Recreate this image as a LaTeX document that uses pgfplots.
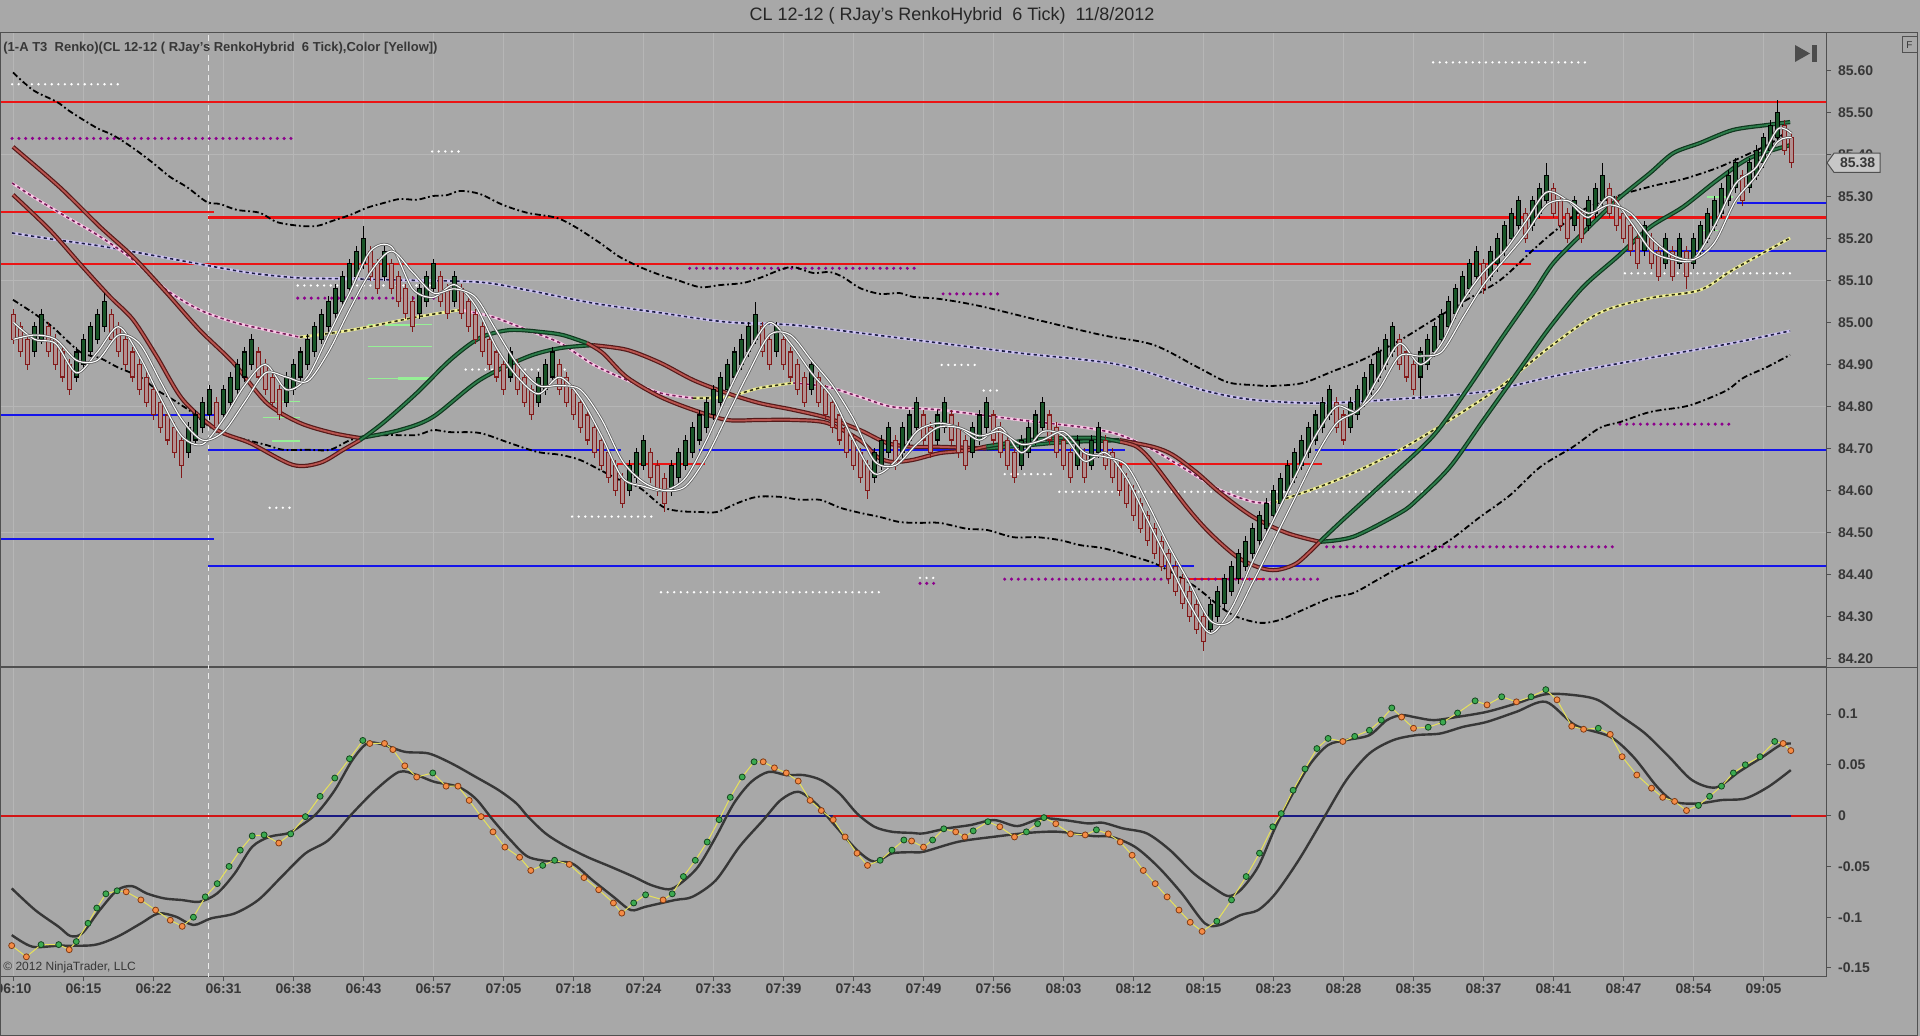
\documentclass[border=0pt]{standalone}
\usepackage{pgfplots}
\pgfplotsset{compat=1.18}
\usepackage{pgfplotstable}
\usepackage{fontspec}
\setmainfont{Liberation Sans}
\definecolor{bg}{RGB}{168,168,168}
\definecolor{gridc}{RGB}{182,182,182}
\definecolor{framec}{RGB}{80,80,80}
\definecolor{labelc}{RGB}{55,55,55}
\definecolor{lvlred}{RGB}{235,20,20}
\definecolor{lvlblue}{RGB}{20,20,235}
\definecolor{dotpurple}{RGB}{140,0,140}
\definecolor{lavL}{RGB}{205,195,240}
\definecolor{lavD}{RGB}{30,30,70}
\definecolor{pinkD}{RGB}{120,30,90}
\definecolor{pinkL}{RGB}{250,200,230}
\definecolor{yelD}{RGB}{50,50,20}
\definecolor{yelL}{RGB}{240,240,150}
\definecolor{maredD}{RGB}{85,25,25}
\definecolor{maredL}{RGB}{185,85,80}
\definecolor{magrnD}{RGB}{15,55,30}
\definecolor{magrnL}{RGB}{45,125,75}
\definecolor{upG}{RGB}{25,85,40}
\definecolor{dnD}{RGB}{130,25,25}
\definecolor{dnF}{RGB}{178,145,145}
\definecolor{wlD}{RGB}{95,95,95}
\definecolor{ltgreen}{RGB}{150,240,150}
\definecolor{oscD}{RGB}{55,55,55}
\definecolor{dotG}{RGB}{60,170,80}
\definecolor{dotGD}{RGB}{20,70,30}
\definecolor{dotO}{RGB}{245,140,70}
\definecolor{dotOD}{RGB}{130,60,20}
\definecolor{dotline}{RGB}{230,225,90}
\definecolor{zred}{RGB}{210,20,20}
\definecolor{znavy}{RGB}{25,25,130}
\tikzset{
  redl/.style={draw=lvlred, line width=1.1pt},
  bluel/.style={draw=lvlblue, line width=1.1pt},
  wdots/.style={draw=white, line width=1.3pt, line cap=round, dash pattern=on 0pt off 3.3pt},
  pdots/.style={draw=dotpurple, line width=1.7pt, line cap=round, dash pattern=on 0pt off 3.4pt},
  band/.style={draw=black, line width=0.9pt, dash pattern=on 3pt off 1.4pt on 0.9pt off 1.4pt},
  lavma/.style={draw=lavL, line width=1.4pt, postaction={draw=lavD, line width=0.8pt, dash pattern=on 1.6pt off 1.6pt}},
  pinkma/.style={draw=pinkL, line width=1.4pt, postaction={draw=pinkD, line width=0.8pt, dash pattern=on 1.6pt off 1.6pt}},
  yelma/.style={draw=yelL, line width=1.4pt, postaction={draw=yelD, line width=0.8pt, dash pattern=on 1.6pt off 1.6pt}},
  redma/.style={draw=maredD, line width=2.1pt, postaction={draw=maredL, line width=0.9pt}},
  grnma/.style={draw=magrnD, line width=2.1pt, postaction={draw=magrnL, line width=0.9pt}},
  wline/.style={draw=wlD, line width=1.3pt, postaction={draw=white, line width=0.55pt}},
  ltg/.style={draw=ltgreen, line width=0.5pt},
  ltgb/.style={draw=ltgreen, line width=1.3pt},
  sess/.style={draw=white!85!gray, line width=0.6pt, dash pattern=on 3pt off 2pt},
  osc/.style={draw=oscD, line width=1.2pt},
}
\pgfplotsset{
  ebar/.style={draw=none, mark=none, error bars/y dir=both, error bars/error mark=none},
}
\pgfplotstableread{
i c
3 84.96
4 84.99
9 84.90
10 84.93
11 84.96
12 84.99
13 85.02
25 84.72
26 84.75
27 84.78
28 84.81
30 84.81
31 84.84
32 84.87
33 84.90
34 84.93
39 84.84
40 84.87
41 84.90
42 84.93
43 84.96
44 84.99
45 85.02
46 85.05
47 85.08
48 85.11
49 85.14
50 85.17
53 85.14
58 85.05
59 85.08
60 85.11
63 85.08
71 84.90
75 84.84
76 84.87
77 84.90
88 84.63
89 84.66
90 84.69
94 84.63
95 84.66
96 84.69
97 84.72
98 84.75
99 84.78
100 84.81
101 84.84
102 84.87
103 84.90
104 84.93
105 84.96
106 84.99
109 84.96
114 84.87
123 84.66
124 84.69
125 84.72
127 84.72
128 84.75
129 84.78
132 84.75
133 84.78
137 84.72
138 84.75
139 84.78
144 84.69
145 84.72
146 84.75
147 84.78
152 84.69
154 84.69
155 84.72
171 84.30
172 84.33
173 84.36
174 84.39
175 84.42
176 84.45
177 84.48
178 84.51
179 84.54
180 84.57
181 84.60
182 84.63
183 84.66
184 84.69
185 84.72
186 84.75
187 84.78
188 84.81
191 84.78
192 84.81
193 84.84
194 84.87
195 84.90
196 84.93
197 84.96
201 84.90
202 84.93
203 84.96
204 84.99
205 85.02
206 85.05
207 85.08
208 85.11
209 85.14
211 85.14
212 85.17
213 85.20
214 85.23
215 85.26
217 85.26
218 85.29
219 85.32
223 85.26
225 85.26
226 85.29
227 85.32
233 85.20
236 85.17
238 85.17
240 85.17
241 85.20
242 85.23
243 85.26
244 85.29
245 85.32
246 85.35
248 85.35
249 85.38
250 85.41
251 85.44
252 85.47
}\upbars
\pgfplotstableread{
i c
0 84.99
1 84.96
2 84.93
5 84.96
6 84.93
7 84.90
8 84.87
14 84.99
15 84.96
16 84.93
17 84.90
18 84.87
19 84.84
20 84.81
21 84.78
22 84.75
23 84.72
24 84.69
29 84.78
35 84.90
36 84.87
37 84.84
38 84.81
51 85.14
52 85.11
54 85.11
55 85.08
56 85.05
57 85.02
61 85.08
62 85.05
64 85.05
65 85.02
66 84.99
67 84.96
68 84.93
69 84.90
70 84.87
72 84.87
73 84.84
74 84.81
78 84.87
79 84.84
80 84.81
81 84.78
82 84.75
83 84.72
84 84.69
85 84.66
86 84.63
87 84.60
91 84.66
92 84.63
93 84.60
107 84.96
108 84.93
110 84.93
111 84.90
112 84.87
113 84.84
115 84.84
116 84.81
117 84.78
118 84.75
119 84.72
120 84.69
121 84.66
122 84.63
126 84.69
130 84.75
131 84.72
134 84.75
135 84.72
136 84.69
140 84.75
141 84.72
142 84.69
143 84.66
148 84.75
149 84.72
150 84.69
151 84.66
153 84.66
156 84.69
157 84.66
158 84.63
159 84.60
160 84.57
161 84.54
162 84.51
163 84.48
164 84.45
165 84.42
166 84.39
167 84.36
168 84.33
169 84.30
170 84.27
189 84.78
190 84.75
198 84.93
199 84.90
200 84.87
210 85.11
216 85.23
220 85.29
221 85.26
222 85.23
224 85.23
228 85.29
229 85.26
230 85.23
231 85.20
232 85.17
234 85.17
235 85.14
237 85.14
239 85.14
247 85.32
253 85.44
254 85.41
}\dnbars
\pgfplotstableread{
i h l
13 85.07 84.98
50 85.23 85.13
106 85.05 84.95
201 84.94 84.82
212 85.21 85.12
219 85.38 85.28
227 85.38 85.28
252 85.53 85.43
}\upwicks
\pgfplotstableread{
i h l
24 84.73 84.63
87 84.64 84.56
93 84.64 84.55
122 84.67 84.58
170 84.31 84.22
239 85.18 85.08
254 85.45 85.37
}\dnwicks
\pgfplotstableread{
i v c
-0.26 -0.128 o
1.84 -0.139 o
3.94 -0.127 g
6.46 -0.127 g
7.96 -0.132 o
8.97 -0.124 g
10.65 -0.106 g
11.9 -0.091 g
13.2 -0.077 g
14.8 -0.074 g
16.1 -0.075 o
18.2 -0.083 o
20.3 -0.093 o
22.4 -0.103 o
24.1 -0.109 o
25.7 -0.100 g
27.4 -0.080 g
29.1 -0.067 g
30.8 -0.050 g
32.4 -0.034 g
34.1 -0.020 g
35.8 -0.019 g
37.9 -0.027 o
39.6 -0.018 g
41.7 -0.001 g
43.8 0.019 g
45.9 0.037 g
48.0 0.056 g
49.9 0.074 g
50.9 0.071 o
53.0 0.071 o
54.2 0.065 o
55.9 0.049 o
57.6 0.038 o
59.9 0.042 g
61.8 0.029 o
63.5 0.029 o
65.1 0.015 o
66.8 -0.001 o
68.5 -0.016 o
70.2 -0.031 o
72.3 -0.041 o
73.9 -0.054 o
75.6 -0.049 g
77.3 -0.044 g
79.4 -0.048 o
81.5 -0.061 o
83.6 -0.073 o
85.7 -0.086 o
86.9 -0.096 o
88.6 -0.086 g
90.3 -0.078 g
92.8 -0.083 o
94.1 -0.077 g
95.7 -0.060 g
97.4 -0.044 g
99.1 -0.026 g
100.8 -0.004 g
102.4 0.018 g
104.1 0.038 g
105.8 0.053 g
107.1 0.053 o
108.7 0.047 o
110.4 0.042 o
112.1 0.034 o
113.8 0.015 o
115.4 0.005 o
117.1 -0.004 o
118.8 -0.021 o
120.5 -0.037 o
122.0 -0.049 o
123.8 -0.044 g
125.5 -0.034 g
127.2 -0.024 g
128.3 -0.025 o
130.0 -0.031 o
131.3 -0.024 g
132.9 -0.013 g
134.6 -0.016 o
135.9 -0.021 o
137.1 -0.015 g
139.2 -0.006 g
140.9 -0.011 o
143.0 -0.021 o
144.7 -0.016 g
146.3 -0.008 g
147.2 -0.002 g
148.9 -0.008 o
151.0 -0.018 o
153.1 -0.019 o
154.7 -0.014 g
156.4 -0.018 o
158.1 -0.026 o
159.8 -0.039 o
161.4 -0.054 o
163.1 -0.067 o
164.8 -0.080 o
166.5 -0.093 o
168.1 -0.105 o
169.8 -0.114 o
171.9 -0.104 g
174.0 -0.083 g
176.1 -0.060 g
178.0 -0.037 g
179.9 -0.011 g
181.1 0.002 g
182.8 0.025 g
184.5 0.046 g
186.2 0.066 g
187.8 0.076 g
189.9 0.073 o
191.6 0.078 g
193.7 0.084 g
195.4 0.094 g
196.9 0.106 g
198.3 0.097 o
200.0 0.086 o
202.1 0.087 g
204.2 0.092 g
206.3 0.101 g
208.8 0.113 g
210.5 0.109 o
212.6 0.117 g
214.7 0.112 o
216.8 0.117 g
218.9 0.124 g
220.5 0.114 o
222.6 0.088 o
224.3 0.085 o
226.4 0.086 g
228.1 0.080 o
229.8 0.058 o
231.9 0.040 o
234.0 0.027 o
235.6 0.018 o
237.3 0.014 o
239.0 0.005 o
240.7 0.010 g
242.3 0.019 g
244.0 0.029 g
245.7 0.042 g
247.4 0.050 g
249.5 0.058 g
251.6 0.073 g
252.8 0.071 o
253.9 0.064 o
}\osctab
\begin{document}
\begin{tikzpicture}
\path[use as bounding box] (0,0) rectangle (960pt,-518pt);
\fill[bg] (0,0) rectangle (960pt,-518pt);
\node[font=\fontsize{9}{10}\selectfont, text=black!85] at (476pt,-8pt) {CL 12-12 ( RJay's RenkoHybrid\ \ 6 Tick)\ \ 11/8/2012};

% ================= UPPER PANEL =================
\begin{axis}[
  at={(0pt,-16.5pt)}, anchor=north west,
  width=913pt, height=317pt, scale only axis,
  xmin=-1.9286, xmax=258.93, ymin=84.180, ymax=85.689,
  axis background/.style={fill=bg},
  axis line style={draw=framec, line width=0.5pt},
  xtick={0,10,...,250}, xticklabels={},
  xmajorgrids=true,
  grid style={draw=gridc, line width=0.45pt},
  major x tick style={draw=none},
  ytick={84.2,84.3,84.4,84.5,84.6,84.7,84.8,84.9,85.0,85.1,85.2,85.3,85.4,85.5,85.6},
  yticklabels={84.20,84.30,84.40,84.50,84.60,84.70,84.80,84.90,85.00,85.10,85.20,85.30,85.40,85.50,85.60},
  ytick pos=right, yticklabel pos=right,
  tick align=outside, major tick length=2.5pt,
  major y tick style={draw=framec, line width=0.5pt},
  yticklabel style={font=\fontsize{7}{8}\selectfont\bfseries, text=labelc},
  extra y ticks={84.5,84.8,85.1,85.4},
  extra y tick labels={},
  extra y tick style={grid=major, major tick length=0pt},
]
% session break
\addplot[sess] coordinates {(27.8,84.1) (27.8,85.8)};
% level lines
\addplot[redl] coordinates {(-2,85.524) (260,85.524)};
\addplot[redl] coordinates {(-2,85.262) (28.6,85.262)};
\addplot[redl] coordinates {(27.8,85.250) (260,85.250)};
\addplot[redl] coordinates {(-2,85.139) (216.8,85.139)};
\addplot[redl] coordinates {(86.2,84.663) (98.8,84.663)};
\addplot[redl] coordinates {(158.1,84.663) (186.9,84.663)};
\addplot[redl] coordinates {(167.6,84.389) (178.8,84.389)};
\addplot[bluel] coordinates {(-2,84.780) (28.6,84.780)};
\addplot[bluel] coordinates {(27.8,84.697) (86.8,84.697)};
\addplot[bluel] coordinates {(97.9,84.697) (158.8,84.697)};
\addplot[bluel] coordinates {(185.9,84.697) (260,84.697)};
\addplot[bluel] coordinates {(-2,84.485) (28.6,84.485)};
\addplot[bluel] coordinates {(27.8,84.420) (168.6,84.420)};
\addplot[bluel] coordinates {(177.8,84.420) (260,84.420)};
\addplot[bluel] coordinates {(246.2,85.285) (260,85.285)};
\addplot[bluel] coordinates {(215.9,85.171) (260,85.171)};
% dotted levels
\addplot[wdots] coordinates {(-0.2,85.567) (14.9,85.567)};
\addplot[wdots] coordinates {(59.8,85.407) (64.1,85.407)};
\addplot[wdots] coordinates {(40.6,85.088) (59.5,85.088)};
\addplot[wdots] coordinates {(64.6,84.888) (78.9,84.888)};
\addplot[wdots] coordinates {(36.6,84.559) (39.9,84.559)};
\addplot[wdots] coordinates {(79.8,84.538) (91.9,84.538)};
\addplot[wdots] coordinates {(92.5,84.358) (124.1,84.358)};
\addplot[wdots] coordinates {(132.6,84.899) (138.1,84.899)};
\addplot[wdots] coordinates {(138.6,84.838) (140.9,84.838)};
\addplot[wdots] coordinates {(141.6,84.639) (149.1,84.639)};
\addplot[wdots] coordinates {(149.4,84.597) (201.9,84.597)};
\addplot[wdots] coordinates {(129.5,84.392) (132.1,84.392)};
\addplot[wdots] coordinates {(230.2,85.117) (254.1,85.117)};
\addplot[wdots] coordinates {(202.8,85.619) (225.1,85.619)};
\addplot[pdots] coordinates {(-0.2,85.438) (39.9,85.438)};
\addplot[pdots] coordinates {(40.6,85.058) (63.4,85.058)};
\addplot[pdots] coordinates {(96.6,85.129) (129.1,85.129)};
\addplot[pdots] coordinates {(132.8,85.068) (141.2,85.068)};
\addplot[pdots] coordinates {(141.6,84.389) (187.1,84.389)};
\addplot[pdots] coordinates {(187.6,84.466) (229.1,84.466)};
\addplot[pdots] coordinates {(129.5,84.379) (132.1,84.379)};
\addplot[pdots] coordinates {(229.5,84.758) (245.2,84.758)};
% light green short marks
\addplot[ltg] coordinates {(50.6,84.994) (59.8,84.994)};
\addplot[ltgb] coordinates {(53.0,84.994) (57.5,84.994)};
\addplot[ltg] coordinates {(50.6,84.943) (59.8,84.943)};
\addplot[ltg] coordinates {(50.6,84.866) (59.8,84.866)};
\addplot[ltgb] coordinates {(54.9,84.866) (59.8,84.866)};
\addplot[ltg] coordinates {(35.6,84.811) (40.9,84.811)};
\addplot[ltg] coordinates {(35.6,84.773) (40.9,84.773)};
\addplot[ltgb] coordinates {(36.9,84.718) (40.9,84.718)};
\addplot[ltgb] coordinates {(241.9,85.299) (245.6,85.299)};
\addplot[ltg] coordinates {(240.6,85.220) (243.5,85.220)};
% bands
\addplot[band, smooth] coordinates {(-0.07,85.595) (2.8,85.553) (6.2,85.525) (8.1,85.502) (11.9,85.463) (14.2,85.446) (17.1,85.415) (19.9,85.380) (22.4,85.346) (24.8,85.322) (27.6,85.287) (29.5,85.282) (31.9,85.268) (35.2,85.261) (37.6,85.239) (40.9,85.230) (43.4,85.230) (45.6,85.242) (48.1,85.256) (50.5,85.273) (52.8,85.284) (55.2,85.294) (57.6,85.292) (59.9,85.301) (61.9,85.303) (63.8,85.313) (66.6,85.306) (69.9,85.280) (73.4,85.261) (77.6,85.249) (80.5,85.225) (83.8,85.189) (86.6,85.156) (89.5,85.132) (92.4,85.113) (94.8,85.101) (98.1,85.084) (100.9,85.089) (104.2,85.094) (106.6,85.106) (109.5,85.125) (111.4,85.132) (114.2,85.118) (116.6,85.120) (118.5,85.108) (120.9,85.082) (123.8,85.068) (126.6,85.070) (128.5,85.061) (132.3,85.056) (138.1,85.039) (146.8,85.004) (155.5,84.970) (162.8,84.947) (169.1,84.894) (173.4,84.858) (177.1,84.851) (179.9,84.849) (184.2,84.856) (188.5,84.884) (192.8,84.912) (198.1,84.958) (202.8,85.006) (207.6,85.054) (212.4,85.101) (217.1,85.173) (220.0,85.215) (224.2,85.268) (229.5,85.303) (234.2,85.325) (238.5,85.341) (243.4,85.368) (248.1,85.403) (251.4,85.430) (253.8,85.463)};
\addplot[band, smooth] coordinates {(-0.07,85.054) (2.8,85.023) (5.6,84.989) (9.5,84.930) (12.4,84.915) (14.8,84.894) (18.1,84.870) (20.5,84.839) (22.8,84.816) (25.6,84.785) (28.1,84.751) (30.5,84.732) (33.4,84.720) (36.2,84.708) (38.5,84.697) (41.9,84.697) (45.2,84.697) (48.1,84.720) (50.5,84.728) (53.4,84.732) (57.6,84.732) (59.9,84.744) (62.4,84.739) (66.6,84.737) (70.9,84.713) (74.8,84.692) (78.1,84.685) (80.9,84.673) (83.8,84.649) (86.6,84.625) (89.5,84.606) (92.8,84.561) (95.2,84.551) (98.1,84.549) (100.5,84.549) (103.4,84.570) (106.2,84.585) (109.5,84.585) (112.4,84.578) (115.2,84.578) (118.1,84.559) (120.9,84.547) (123.8,84.537) (126.6,84.525) (129.5,84.523) (132.3,84.523) (136.2,84.509) (139.1,84.506) (142.8,84.489) (146.2,84.489) (149.5,84.482) (152.4,84.470) (155.6,84.463) (159.1,84.447) (162.8,84.428) (165.6,84.404) (169.1,84.368) (172.4,84.323) (174.8,84.299) (178.1,84.285) (180.9,84.292) (184.2,84.316) (188.1,84.344) (191.4,84.356) (194.8,84.387) (198.1,84.418) (200.5,84.435) (205.2,84.482) (209.5,84.537) (213.8,84.589) (218.1,84.656) (222.8,84.704) (226.6,84.749) (229.5,84.763) (233.8,84.787) (238.5,84.799) (240.9,84.811) (244.8,84.839) (247.1,84.868) (250.5,84.894) (253.8,84.923)};
% lavender MA
\addplot[lavma, smooth] coordinates {(-0.2,85.213) (5.2,85.199) (12.4,85.182) (19.5,85.161) (26.6,85.139) (33.8,85.118) (40.9,85.106) (48.1,85.104) (55.2,85.101) (66.6,85.096) (73.4,85.077) (82.8,85.046) (92.4,85.023) (101.9,85.001) (111.4,84.994) (120.9,84.975) (132.3,84.951) (143.8,84.927) (158.1,84.899) (169.9,84.839) (177.1,84.816) (186.6,84.808) (198.1,84.818) (209.9,84.835) (219.5,84.870) (226.6,84.894) (236.2,84.923) (245.6,84.951) (253.8,84.980)};
% pink / yellow MA
\addplot[pinkma, smooth] coordinates {(-0.2,85.332) (2.8,85.299) (7.6,85.251) (12.4,85.204) (17.1,85.149) (21.9,85.077) (26.6,85.030) (31.4,85.001) (36.2,84.982) (40.9,84.965)};
\addplot[yelma, smooth] coordinates {(40.9,84.965) (45.6,84.975) (50.5,84.989) (57.6,85.013) (63.8,85.030)};
\addplot[pinkma, smooth] coordinates {(63.8,85.030) (68.5,85.013) (73.4,84.982) (78.1,84.951) (82.8,84.900) (87.6,84.863) (92.4,84.832) (97.1,84.820)};
\addplot[yelma, smooth] coordinates {(97.1,84.820) (101.9,84.823) (106.6,84.844) (111.4,84.856)};
\addplot[pinkma, smooth] coordinates {(111.4,84.856) (116.2,84.847) (120.9,84.823) (125.6,84.799) (132.3,84.792) (143.8,84.768) (153.4,84.749) (158.1,84.732) (162.8,84.697) (167.6,84.649) (172.4,84.601) (177.1,84.573) (180,84.571)};
\addplot[yelma, smooth] coordinates {(180,84.571) (186.6,84.609) (191.4,84.642) (198.1,84.697) (205.2,84.768) (212.4,84.847) (219.5,84.942) (226.6,85.023) (233.8,85.058) (240.9,85.077) (245.6,85.125) (253.8,85.201)};
% slow MA
\addplot[redma, smooth] coordinates {(-0.07,85.418) (6.6,85.322) (12.4,85.227) (17.1,85.156) (21.9,85.070) (26.6,84.982) (31.4,84.904) (36.2,84.808) (40.9,84.761) (45.6,84.737) (49.5,84.725)};
\addplot[grnma, smooth] coordinates {(49.5,84.725) (55.2,84.744) (59.9,84.775) (66.6,84.863) (73.4,84.918) (78.1,84.939) (82.8,84.946)};
\addplot[redma, smooth] coordinates {(82.8,84.946) (87.6,84.935) (92.4,84.904) (97.1,84.863) (101.9,84.832) (106.6,84.808) (111.4,84.792) (116.2,84.773) (120.9,84.744) (124.8,84.713) (128.5,84.704) (132.3,84.704) (139,84.700)};
\addplot[grnma, smooth] coordinates {(139,84.700) (145,84.708) (150,84.715) (158,84.720)};
\addplot[redma, smooth] coordinates {(158,84.720) (162.8,84.704) (165.6,84.685) (169.1,84.642) (172.4,84.594) (177.1,84.537) (181.9,84.499) (186.6,84.478)};
\addplot[grnma, smooth] coordinates {(186.6,84.478) (191.4,84.490) (198.1,84.547) (200.5,84.578) (205.2,84.656) (210.0,84.768) (214.8,84.880) (219.5,84.989) (224.2,85.084) (229.1,85.156) (233.8,85.227) (238.5,85.275) (243.4,85.339) (248.1,85.392) (253.8,85.422)};
% fast MA
\addplot[redma, smooth] coordinates {(-0.07,85.304) (5.2,85.220) (9.9,85.132) (13.8,85.061) (17.1,85.006) (20.5,84.918) (24.2,84.816) (29.1,84.744) (33.8,84.713) (39.9,84.661) (43.8,84.666) (47.1,84.697) (49.5,84.720)};
\addplot[grnma, smooth] coordinates {(49.5,84.720) (52.8,84.761) (57.6,84.832) (62.4,84.911) (66.6,84.963) (70.9,84.982) (75.6,84.977) (78.5,84.970) (81.9,84.951)};
\addplot[redma, smooth] coordinates {(81.9,84.951) (84.2,84.927) (87.6,84.870) (92.4,84.823) (97.1,84.792) (101.9,84.768) (106.6,84.768) (111.4,84.768) (116.2,84.761) (120.9,84.720) (123.4,84.680) (125.6,84.668) (128.5,84.673) (132.3,84.689) (136,84.695) (139,84.705)};
\addplot[grnma, smooth] coordinates {(139,84.705) (145,84.720) (150,84.725) (155,84.725) (158.1,84.716)};
\addplot[redma, smooth] coordinates {(158.1,84.716) (160.5,84.704) (162.8,84.666) (167.6,84.561) (170.9,84.499) (174.8,84.442) (178.1,84.416) (180.5,84.411) (183.4,84.428) (186.6,84.478)};
\addplot[grnma, smooth] coordinates {(186.6,84.478) (189.9,84.530) (196.6,84.632) (202.8,84.730) (207.6,84.839) (212.4,84.958) (217.1,85.070) (220.0,85.142) (224.2,85.213) (229.1,85.292) (233.8,85.356) (237.1,85.403) (240.9,85.427) (245.6,85.458) (250.5,85.470) (253.8,85.477)};
% candles: wicks
\addplot[ebar, error bars/y fixed=0.042, error bars/error bar style={draw=black, line width=0.45pt}] table[x=i,y=c] \upbars;
\addplot[ebar, error bars/y fixed=0.042, error bars/error bar style={draw=dnD, line width=0.45pt}] table[x=i,y=c] \dnbars;
\addplot[ebar, error bars/y explicit, error bars/error bar style={draw=black, line width=0.45pt}] table[x=i, y expr={(\thisrow{h}+\thisrow{l})/2}, y error expr={(\thisrow{h}-\thisrow{l})/2}] \upwicks;
\addplot[ebar, error bars/y explicit, error bars/error bar style={draw=dnD, line width=0.45pt}] table[x=i, y expr={(\thisrow{h}+\thisrow{l})/2}, y error expr={(\thisrow{h}-\thisrow{l})/2}] \dnwicks;
% candles: bodies
\addplot[ebar, error bars/y fixed=0.031, error bars/error bar style={draw=black, line width=2.2pt}] table[x=i,y=c] \upbars;
\addplot[ebar, error bars/y fixed=0.0285, error bars/error bar style={draw=upG, line width=1.3pt}] table[x=i,y=c] \upbars;
\addplot[ebar, error bars/y fixed=0.031, error bars/error bar style={draw=dnD, line width=2.2pt}] table[x=i,y=c] \dnbars;
\addplot[ebar, error bars/y fixed=0.0285, error bars/error bar style={draw=dnF, line width=1.3pt}] table[x=i,y=c] \dnbars;
% white fast lines
\addplot[wline, smooth] coordinates {(0,85.00) (3,84.96) (6,84.95) (9,84.88) (12,84.93) (15,84.99) (18,84.92) (21,84.82) (24,84.73) (27,84.71) (30,84.77) (33,84.85) (36,84.90) (39,84.84) (42,84.87) (45,84.97) (48,85.07) (51,85.17) (54,85.18) (57,85.08) (60,85.06) (63,85.09) (66,85.04) (69,84.94) (72,84.87) (75,84.83) (78,84.87) (81,84.82) (84,84.73) (87,84.63) (90,84.61) (93,84.60) (96,84.63) (99,84.72) (102,84.83) (105,84.93) (108,85.00) (111,84.95) (114,84.88) (117,84.82) (120,84.72) (123,84.64) (126,84.67) (129,84.74) (132,84.76) (135,84.75) (138,84.72) (141,84.75) (144,84.69) (147,84.74) (150,84.73) (153,84.67) (156,84.69) (159,84.63) (162,84.53) (165,84.43) (168,84.33) (171,84.26) (174,84.32) (177,84.43) (180,84.53) (183,84.63) (186,84.73) (189,84.80) (192,84.79) (195,84.87) (198,84.95) (201,84.90) (204,84.95) (207,85.05) (210,85.12) (213,85.17) (216,85.24) (219,85.31) (222,85.29) (225,85.25) (228,85.30) (231,85.24) (234,85.17) (237,85.15) (240,85.15) (243,85.23) (246,85.33) (249,85.37) (252,85.46) (254,85.45)};
\addplot[wline, smooth] coordinates {(0,84.96) (3,84.97) (6,84.96) (9,84.91) (12,84.91) (15,84.97) (18,84.95) (21,84.86) (24,84.77) (27,84.72) (30,84.74) (33,84.81) (36,84.88) (39,84.87) (42,84.86) (45,84.93) (48,85.03) (51,85.12) (54,85.17) (57,85.12) (60,85.07) (63,85.08) (66,85.06) (69,84.98) (72,84.90) (75,84.85) (78,84.85) (81,84.84) (84,84.77) (87,84.67) (90,84.62) (93,84.60) (96,84.61) (99,84.68) (102,84.78) (105,84.88) (108,84.97) (111,84.97) (114,84.91) (117,84.85) (120,84.77) (123,84.67) (126,84.66) (129,84.71) (132,84.75) (135,84.75) (138,84.73) (141,84.74) (144,84.71) (147,84.72) (150,84.74) (153,84.69) (156,84.68) (159,84.66) (162,84.57) (165,84.47) (168,84.38) (171,84.29) (174,84.29) (177,84.38) (180,84.48) (183,84.58) (186,84.68) (189,84.76) (192,84.79) (195,84.84) (198,84.92) (201,84.92) (204,84.93) (207,85.01) (210,85.09) (213,85.15) (216,85.21) (219,85.28) (222,85.29) (225,85.26) (228,85.28) (231,85.26) (234,85.20) (237,85.16) (240,85.15) (243,85.19) (246,85.29) (249,85.35) (252,85.43) (254,85.44)};
\end{axis}

% ================= LOWER PANEL =================
\begin{axis}[
  at={(0pt,-333.5pt)}, anchor=north west,
  width=913pt, height=154.5pt, scale only axis,
  xmin=-1.9286, xmax=258.93, ymin=-0.1579, ymax=0.1463,
  axis background/.style={fill=bg},
  axis line style={draw=framec, line width=0.5pt},
  xtick={0,10,...,250},
  xticklabels={06:10,06:15,06:22,06:31,06:38,06:43,06:57,07:05,07:18,07:24,07:33,07:39,07:43,07:49,07:56,08:03,08:12,08:15,08:23,08:28,08:35,08:37,08:41,08:47,08:54,09:05},
  xtick pos=bottom, xmajorgrids=true,
  grid style={draw=gridc, line width=0.45pt},
  ytick={-0.15,-0.1,-0.05,0,0.05,0.1},
  yticklabels={-0.15,-0.1,-0.05,0,0.05,0.1},
  ytick pos=right, yticklabel pos=right,
  tick align=outside, major tick length=2.5pt,
  tick style={draw=framec, line width=0.5pt},
  ticklabel style={font=\fontsize{7}{8}\selectfont\bfseries, text=labelc},
  xticklabel style={yshift=2.3pt},
]
\addplot[sess] coordinates {(27.8,-0.2) (27.8,0.2)};
% zero line
\addplot[draw=zred, line width=1.1pt] coordinates {(-2,0) (260,0)};
\addplot[draw=znavy, line width=1.1pt] coordinates {(41.7,0) (66.8,0)};
\addplot[draw=znavy, line width=1.1pt] coordinates {(100.8,0) (117.1,0)};
\addplot[draw=znavy, line width=1.1pt] coordinates {(181.1,0) (253.9,0)};
% two dark lines
\addplot[osc, smooth] coordinates {(-0.25,-0.0717) (3.10,-0.0930) (6.45,-0.1094) (8.13,-0.1185) (9.81,-0.1159) (12.32,-0.0930) (14.84,-0.0733) (16.93,-0.0694) (19.03,-0.0766) (21.54,-0.0815) (24.06,-0.0831) (26.58,-0.0848) (29.09,-0.0766) (31.6,-0.0569) (34.1,-0.0307) (36.6,-0.0208) (39.15,-0.0175) (40.83,-0.0110) (43.3,0.0021) (45.9,0.0251) (48.4,0.0546) (50.5,0.0710) (52.6,0.0703) (55.9,0.0628) (59.3,0.0612) (62.6,0.0513) (66.0,0.0382) (69.3,0.0251) (71.85,0.0120) (73.5,-0.0011) (76.0,-0.0175) (78.6,-0.0290) (81.9,-0.0405) (85.3,-0.0503) (88.6,-0.0602) (91.1,-0.0684) (93.6,-0.0726) (95.3,-0.0667) (97.8,-0.0503) (100.35,-0.0208) (102.9,0.0120) (105.4,0.0333) (107.9,0.0431) (110.4,0.0399) (112.9,0.0399) (115.4,0.0349) (118.0,0.0218) (120.5,0.0021) (123.0,-0.0110) (125.5,-0.0159) (128.3,-0.0170) (130.0,-0.0175) (133.35,-0.0126) (136.7,-0.0093) (140.1,-0.0044) (143.4,-0.0103) (146.8,-0.0028) (150.1,-0.0044) (153.5,-0.0077) (155.6,-0.0070) (158.5,-0.0126) (161.9,-0.0175) (165.2,-0.0339) (168.6,-0.0569) (171.9,-0.0733) (173.6,-0.0792) (175.3,-0.0733) (177.8,-0.0503) (180.3,-0.0110) (182.8,0.0223) (185.3,0.0513) (187.8,0.0695) (190.4,0.0743) (193.7,0.0792) (196.2,0.0940) (198.3,0.0989) (200.4,0.0966) (202.9,0.0940) (206.3,0.0972) (210.5,0.1022) (214.7,0.1104) (218.9,0.1195) (223.1,0.1185) (226.4,0.1136) (229.8,0.0972) (233.1,0.0808) (236.5,0.0579) (239.8,0.0349) (243.2,0.0277) (246.5,0.0431) (249.9,0.0579) (252.4,0.0694) (253.9,0.0710)};
\addplot[osc, smooth] coordinates {(-0.25,-0.1176) (2.68,-0.1290) (6.45,-0.1281) (11.48,-0.1274) (14.84,-0.1192) (18.2,-0.1061) (20.7,-0.0963) (23.2,-0.0995) (25.7,-0.1077) (28.2,-0.1012) (31.6,-0.0963) (34.96,-0.0831) (38.3,-0.0602) (41.7,-0.0372) (45.0,-0.0241) (48.4,0.0021) (51.7,0.0251) (55.1,0.0431) (57.6,0.0399) (60.1,0.0333) (63.5,0.0284) (66.0,0.0169) (68.5,-0.0044) (71.0,-0.0241) (73.5,-0.0405) (76.9,-0.0454) (79.8,-0.0471) (82.7,-0.0635) (85.7,-0.0799) (88.2,-0.0930) (90.3,-0.0897) (94.5,-0.0831) (97.0,-0.0799) (100.35,-0.0635) (103.7,-0.0307) (107.1,-0.0044) (109.6,0.0153) (112.1,0.0235) (114.6,0.0120) (117.1,-0.0077) (120.5,-0.0339) (123.0,-0.0454) (125.5,-0.0372) (128.3,-0.0360) (130.0,-0.0356) (135.0,-0.0257) (140.1,-0.0208) (145.1,-0.0169) (149.3,-0.0159) (154.3,-0.0202) (156.8,-0.0208) (160.2,-0.0307) (163.5,-0.0503) (166.9,-0.0766) (170.2,-0.1061) (172.3,-0.1077) (175.3,-0.0979) (177.8,-0.0930) (180.3,-0.0766) (183.6,-0.0438) (187.0,-0.0044) (190.4,0.0349) (193.7,0.0612) (197.1,0.0743) (200.4,0.0792) (203.8,0.0808) (207.1,0.0874) (210.5,0.0923) (214.7,0.1022) (218.9,0.1120) (223.1,0.0890) (228.1,0.0776) (231.4,0.0579) (234.8,0.0284) (237.3,0.0136) (240.7,0.0120) (244.0,0.0153) (247.4,0.0169) (250.7,0.0284) (253.9,0.0448)};
% dotted oscillator
\addplot[draw=dotline, line width=0.5pt] table[x=i,y=v] \osctab;
\addplot[scatter, only marks, mark size=1.5pt, scatter src=explicit symbolic,
  scatter/classes={g={mark=*, draw=dotGD, fill=dotG}, o={mark=*, draw=dotOD, fill=dotO}}]
  table[x=i, y=v, meta=c] \osctab;
\end{axis}

% frames and decorations
\draw[framec, line width=0.5pt] (0,-16.5pt) rectangle (958.5pt,-517.5pt);
\draw[framec, line width=0.5pt] (913pt,-333.5pt) -- (958.5pt,-333.5pt);
\draw[framec, line width=0.5pt, fill=bg] (951pt,-18.5pt) rectangle (958.5pt,-26.5pt);
\node[font=\fontsize{5}{6}\selectfont, text=labelc] at (954.75pt,-22.5pt) {F};
\fill[black!70] (897.5pt,-22.5pt) -- (897.5pt,-31pt) -- (905pt,-26.75pt) -- cycle;
\fill[black!70] (906pt,-22.5pt) rectangle (908.5pt,-31pt);
\draw[framec, line width=0.5pt, fill=black!22] (913.5pt,-81.4pt) -- (917pt,-76.6pt) -- (940pt,-76.6pt) -- (940pt,-86.2pt) -- (917pt,-86.2pt) -- cycle;
\node[font=\fontsize{7}{8}\selectfont\bfseries, text=labelc] at (928.8pt,-81.4pt) {85.38};
\node[anchor=west, font=\fontsize{6.5}{7.5}\selectfont\bfseries, text=labelc, inner sep=0pt] at (1.5pt,-24pt) {(1-A T3\ \ Renko)(CL 12-12 ( RJay's RenkoHybrid\ \ 6 Tick),Color [Yellow])};
\node[anchor=west, font=\fontsize{6}{7}\selectfont, text=labelc, inner sep=0pt] at (1.5pt,-483.5pt) {\textcopyright{} 2012 NinjaTrader, LLC};
\end{tikzpicture}
\end{document}
